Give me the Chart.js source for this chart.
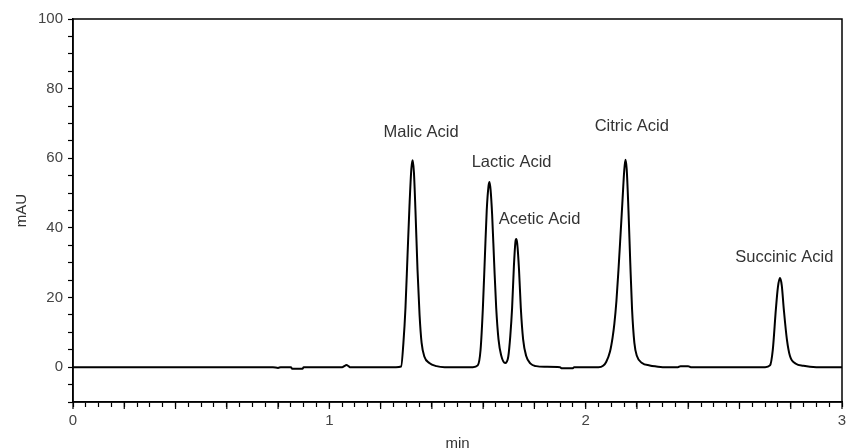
<!DOCTYPE html>
<html>
<head>
<meta charset="utf-8">
<script src="https://cdn.jsdelivr.net/npm/chart.js@4/dist/chart.umd.min.js"></script>
<style>
  html, body { margin: 0; padding: 0; background: #fff; }
  #wrap { width: 847px; height: 448px; }
</style>
</head>
<body>
<div id="wrap"><canvas id="chromChart" width="847" height="448"></canvas></div>
<script>
// ---------------- DATA ----------------
const times = [
  0, 0.78, 0.80, 0.81, 0.85, 0.855, 0.895, 0.90, 1.05, 1.06, 1.066, 1.075, 1.08,
  1.26, 1.28, 1.289, 1.297, 1.305, 1.3125, 1.32, 1.325, 1.33, 1.336, 1.344, 1.352,
  1.36, 1.371, 1.39, 1.418, 1.45,
  1.56, 1.579, 1.59, 1.599, 1.607, 1.614, 1.621, 1.625, 1.629, 1.635, 1.643, 1.651,
  1.66, 1.67, 1.686, 1.698, 1.706, 1.713, 1.72, 1.726, 1.729, 1.733, 1.74, 1.747,
  1.756, 1.768, 1.785, 1.807, 1.84, 1.90, 1.905, 1.95, 1.955,
  2.05, 2.068, 2.08, 2.095, 2.105, 2.112, 2.12, 2.128, 2.136, 2.143, 2.15, 2.155,
  2.16, 2.167, 2.174, 2.181, 2.19, 2.20, 2.22, 2.25, 2.276, 2.30, 2.36, 2.37, 2.40, 2.41,
  2.70, 2.719, 2.73, 2.742, 2.75, 2.758, 2.765, 2.773, 2.785, 2.797, 2.82, 2.85,
  2.875, 2.90, 3.0
];
const signal = [
  0, 0, -0.2, 0, 0, -0.45, -0.45, 0, 0, 0.4, 0.6, 0.3, 0,
  0, 0.2, 7, 17, 32, 46, 57, 59.4, 56, 45, 28, 15,
  7, 3, 1.2, 0.3, 0,
  0, 0.5, 5, 17, 32, 45, 52, 53.2, 51, 44, 30, 17,
  8, 3.5, 1.2, 3, 9, 17, 29, 36, 36.8, 35.5, 28, 17,
  8, 3.2, 1, 0.3, 0.1, 0, -0.3, -0.3, 0,
  0, 0.4, 1.5, 4.5, 8.5, 12.5, 19, 28, 38, 47, 56, 59.6,
  57, 45, 30, 16.6, 7, 3.2, 1.2, 0.5, 0.2, 0, 0, 0.3, 0.3, 0,
  0, 0.5, 5, 16.6, 23, 25.6, 23.5, 16.6, 8, 3.2, 1, 0.4,
  0.1, 0, 0
];

const peakNames = ["Malic Acid", "Lactic Acid", "Acetic Acid", "Citric Acid", "Succinic Acid"];
const labelTimes = [1.358, 1.711, 1.82, 2.18, 2.775];
const labelValues = [67.3, 58.8, 42.5, 69.2, 31.5];

const yTickLabels = [0, 20, 40, 60, 80, 100];
const xTickLabels = [0, 1, 2, 3];

// ---------------- PLUGINS ----------------
const frame = {
  id: "frame",
  afterDraw(chart) {
    const { ctx, chartArea: a, scales } = chart;
    ctx.save();
    ctx.strokeStyle = "#000";
    ctx.lineWidth = 1.5;
    ctx.strokeRect(a.left, a.top, a.right - a.left, a.bottom - a.top);

    // longer ticks every 0.2 min
    ctx.lineWidth = 1.2;
    for (let i = 0; i <= 15; i++) {
      const px = scales.x.getPixelForValue(i * 0.2);
      ctx.beginPath();
      ctx.moveTo(px, a.bottom);
      ctx.lineTo(px, a.bottom + 7);
      ctx.stroke();
    }

    // peak labels
    ctx.fillStyle = "#333";
    ctx.font = "16.5px 'Liberation Sans', Arial, sans-serif";
    ctx.textAlign = "center";
    ctx.textBaseline = "middle";
    peakNames.forEach((name, i) => {
      ctx.fillText(name,
        scales.x.getPixelForValue(labelTimes[i]),
        scales.y.getPixelForValue(labelValues[i]));
    });
    ctx.restore();
  }
};

// ---------------- CHART ----------------
const tickFont = { family: "'Liberation Sans', Arial, sans-serif", size: 15 };

new Chart(document.getElementById("chromChart"), {
  type: "line",
  data: {
    datasets: [{
      data: times.map((t, i) => ({ x: t, y: signal[i] })),
      borderColor: "#000",
      borderWidth: 2,
      pointRadius: 0,
      cubicInterpolationMode: "monotone",
      fill: false,
    }],
  },
  options: {
    responsive: false,
    animation: false,
    layout: { padding: { left: 0, top: 19, right: 5, bottom: 0 } },
    plugins: { legend: { display: false }, tooltip: { enabled: false } },
    scales: {
      x: {
        type: "linear",
        min: 0,
        max: 3,
        afterFit(scale) {
          scale.height = 46;
          scale.paddingLeft = 0;
          scale.paddingRight = 0;
        },
        border: { display: true, color: "#000", width: 1.5 },
        grid: { drawOnChartArea: false, tickLength: 5, tickColor: "#000", tickWidth: 1.2 },
        ticks: {
          stepSize: 0.05,
          autoSkip: false,
          maxRotation: 0,
          padding: 5,
          color: "#444",
          font: tickFont,
          callback(v) {
            const r = Math.round(v);
            return Math.abs(v - r) < 1e-6 && xTickLabels.includes(r) ? String(r) : "";
          },
        },
        title: {
          display: true,
          text: "min",
          color: "#333",
          font: { family: tickFont.family, size: 15, lineHeight: 0.6 },
          padding: { top: 0, bottom: 0 },
        },
      },
      y: {
        min: -10,
        max: 100,
        afterFit(scale) { scale.width = 73; },
        border: { display: true, color: "#000", width: 1.5 },
        grid: { drawOnChartArea: false, tickLength: 5, tickColor: "#000", tickWidth: 1.2 },
        ticks: {
          stepSize: 5,
          autoSkip: false,
          padding: 5,
          color: "#444",
          font: tickFont,
          callback(v) {
            return yTickLabels.includes(v) ? String(v) : "";
          },
        },
        title: {
          display: true,
          text: "mAU",
          color: "#333",
          font: { family: tickFont.family, size: 15, lineHeight: 1 },
          padding: { top: 14, bottom: 0 },
        },
      },
    },
  },
  plugins: [frame],
});
</script>
</body>
</html>
